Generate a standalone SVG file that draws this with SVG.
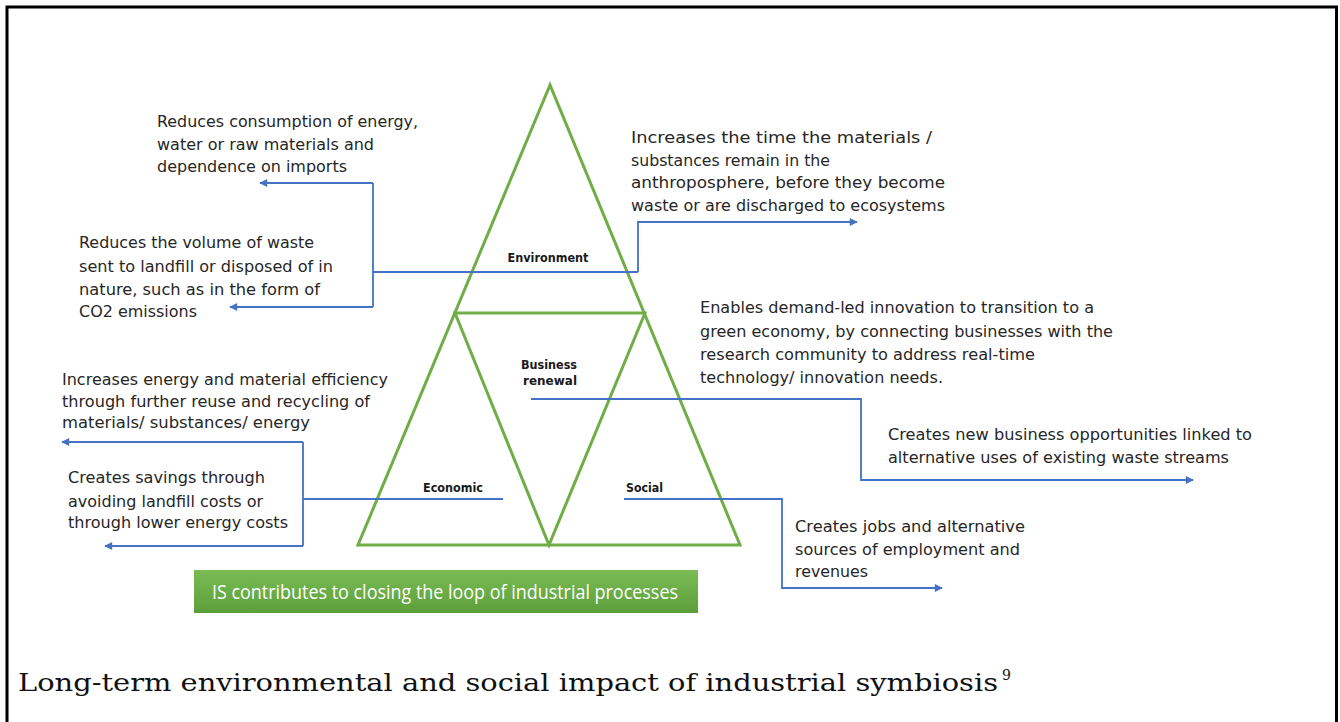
<svg xmlns="http://www.w3.org/2000/svg" width="1340" height="722" viewBox="0 0 1340 722">
<style>
.t{font-family:"DejaVu Sans","Liberation Sans",sans-serif;font-size:16.5px;fill:#262626;}
.lb{font-family:"DejaVu Sans","Liberation Sans",sans-serif;font-size:12.5px;font-weight:bold;fill:#1a1a1a;}
.tri{fill:none;stroke:#70ad47;stroke-width:3;stroke-linejoin:miter;}
.con{fill:none;stroke:#4472c4;stroke-width:1.8;}
.cap{font-family:"DejaVu Serif","Liberation Serif",serif;font-size:24px;fill:#111;}
</style>
<defs>
<marker id="ah" viewBox="0 0 10 10" refX="9" refY="5" markerWidth="9" markerHeight="8" markerUnits="userSpaceOnUse" orient="auto">
<path d="M0,0 L10,5 L0,10 z" fill="#4472c4"/>
</marker>
<linearGradient id="gg" x1="0" y1="0" x2="0" y2="1">
<stop offset="0" stop-color="#7abb55"/>
<stop offset="1" stop-color="#5c9f3a"/>
</linearGradient>
</defs>
<rect x="7" y="7" width="1329.5" height="740" fill="none" stroke="#000" stroke-width="3"/>

<g id="pyramid">
<path class="tri" d="M550,85 L358,545 L740,545 Z"/>
<path class="tri" d="M455,313 L645,313 L549,545 Z"/>
</g>

<g id="labels">
<text class="lb" x="548" y="262" text-anchor="middle" textLength="81" lengthAdjust="spacingAndGlyphs">Environment</text>
<text class="lb" x="549" y="369" text-anchor="middle" textLength="56" lengthAdjust="spacingAndGlyphs">Business</text>
<text class="lb" x="550" y="385" text-anchor="middle" textLength="54" lengthAdjust="spacingAndGlyphs">renewal</text>
<text class="lb" x="453" y="492" text-anchor="middle" textLength="60" lengthAdjust="spacingAndGlyphs">Economic</text>
<text class="lb" x="626" y="492" textLength="37" lengthAdjust="spacingAndGlyphs">Social</text>
</g>

<g id="connectors">
<path class="con" d="M638,272 L373,272"/>
<path class="con" d="M373,183 L373,307"/>
<path class="con" d="M373,183 L260,183" marker-end="url(#ah)"/>
<path class="con" d="M373,307 L230,307" marker-end="url(#ah)"/>
<path class="con" d="M638,272 L638,222 L857,222" marker-end="url(#ah)"/>
<path class="con" d="M503,499 L303,499"/>
<path class="con" d="M303,442 L303,546"/>
<path class="con" d="M303,442 L62,442" marker-end="url(#ah)"/>
<path class="con" d="M303,546 L105,546" marker-end="url(#ah)"/>
<path class="con" d="M531,399 L861,399 L861,480 L1193,480" marker-end="url(#ah)"/>
<path class="con" d="M624,499 L782,499 L782,588 L942,588" marker-end="url(#ah)"/>
</g>

<g id="env-left-1">
<text class="t" x="157" y="127" textLength="261" lengthAdjust="spacingAndGlyphs">Reduces consumption of energy,</text>
<text class="t" x="157" y="150" textLength="217" lengthAdjust="spacingAndGlyphs">water or raw materials and</text>
<text class="t" x="157" y="172" textLength="190" lengthAdjust="spacingAndGlyphs">dependence on imports</text>
</g>
<g id="env-left-2">
<text class="t" x="79" y="248" textLength="235" lengthAdjust="spacingAndGlyphs">Reduces the volume of waste</text>
<text class="t" x="79" y="272" textLength="254" lengthAdjust="spacingAndGlyphs">sent to landfill or disposed of in</text>
<text class="t" x="79" y="295" textLength="241" lengthAdjust="spacingAndGlyphs">nature, such as in the form of</text>
<text class="t" x="79" y="317" textLength="118" lengthAdjust="spacingAndGlyphs">CO2 emissions</text>
</g>
<g id="env-right">
<text class="t" x="631" y="143" textLength="301" lengthAdjust="spacingAndGlyphs">Increases the time the materials /</text>
<text class="t" x="631" y="166" textLength="199" lengthAdjust="spacingAndGlyphs">substances remain in the</text>
<text class="t" x="631" y="188" textLength="314" lengthAdjust="spacingAndGlyphs">anthroposphere, before they become</text>
<text class="t" x="631" y="211" textLength="314" lengthAdjust="spacingAndGlyphs">waste or are discharged to ecosystems</text>
</g>
<g id="eco-left-1">
<text class="t" x="62" y="385" textLength="326" lengthAdjust="spacingAndGlyphs">Increases energy and material efficiency</text>
<text class="t" x="62" y="407" textLength="308" lengthAdjust="spacingAndGlyphs">through further reuse and recycling of</text>
<text class="t" x="62" y="428" textLength="248" lengthAdjust="spacingAndGlyphs">materials/ substances/  energy</text>
</g>
<g id="eco-left-2">
<text class="t" x="68" y="483" textLength="197" lengthAdjust="spacingAndGlyphs">Creates savings through</text>
<text class="t" x="68" y="507" textLength="195" lengthAdjust="spacingAndGlyphs">avoiding landfill costs or</text>
<text class="t" x="68" y="528" textLength="220" lengthAdjust="spacingAndGlyphs">through lower energy costs</text>
</g>
<g id="bus-right-1">
<text class="t" x="700" y="313" textLength="394" lengthAdjust="spacingAndGlyphs">Enables demand-led innovation to transition to a</text>
<text class="t" x="700" y="337" textLength="413" lengthAdjust="spacingAndGlyphs">green economy, by connecting businesses with the</text>
<text class="t" x="700" y="360" textLength="335" lengthAdjust="spacingAndGlyphs">research community to address real-time</text>
<text class="t" x="700" y="383" textLength="243" lengthAdjust="spacingAndGlyphs">technology/ innovation needs.</text>
</g>
<g id="bus-right-2">
<text class="t" x="888" y="440" textLength="364" lengthAdjust="spacingAndGlyphs">Creates new business opportunities linked to</text>
<text class="t" x="888" y="463" textLength="341" lengthAdjust="spacingAndGlyphs">alternative uses of existing waste streams</text>
</g>
<g id="soc-right">
<text class="t" x="795" y="532" textLength="230" lengthAdjust="spacingAndGlyphs">Creates jobs and alternative</text>
<text class="t" x="795" y="555" textLength="225" lengthAdjust="spacingAndGlyphs">sources of employment and</text>
<text class="t" x="795" y="577" textLength="73" lengthAdjust="spacingAndGlyphs">revenues</text>
</g>

<g id="banner">
<rect x="194" y="570" width="504" height="43" fill="url(#gg)"/>
<text x="212" y="599" font-family="'Open Sans','DejaVu Sans',sans-serif" font-size="20" fill="#ffffff" textLength="466" lengthAdjust="spacingAndGlyphs">IS contributes to closing the loop of industrial processes</text>
</g>

<g id="caption">
<text class="cap" x="18" y="691" textLength="980" lengthAdjust="spacingAndGlyphs">Long-term environmental and social impact of industrial symbiosis</text>
<text x="1002" y="680" font-family="'DejaVu Serif','Liberation Serif',serif" font-size="14" fill="#111">9</text>
</g>
</svg>
